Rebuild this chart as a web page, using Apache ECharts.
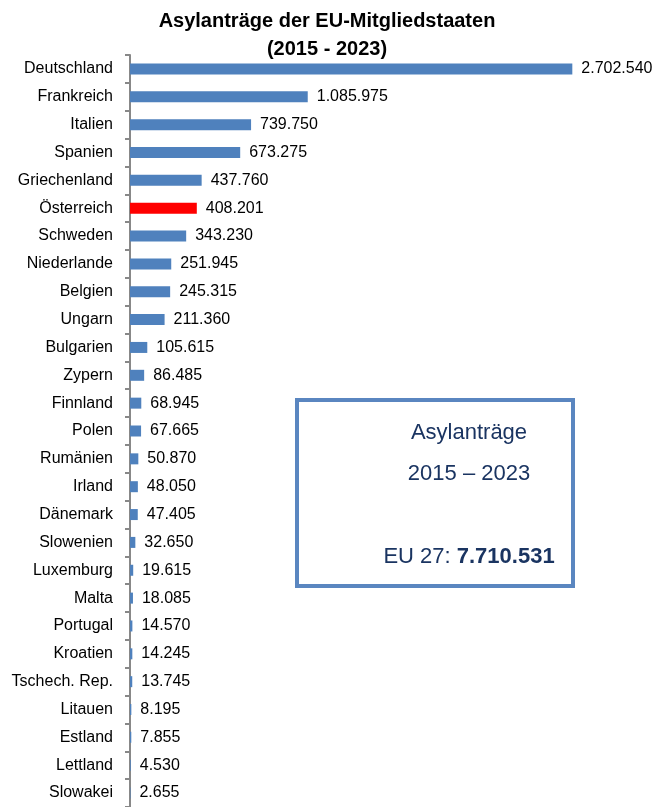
<!DOCTYPE html>
<html>
<head>
<meta charset="utf-8">
<script src="https://cdn.jsdelivr.net/npm/echarts@6/dist/echarts.min.js"></script>
<style>
  html, body { margin: 0; padding: 0; background: #fff; }
  #chart { width: 666px; height: 807px; }
</style>
</head>
<body>
<div id="chart"></div>
<script>
// Länder (von oben nach unten) und Anzahl Asylanträge 2015-2023
const countries = [
  "Deutschland", "Frankreich", "Italien", "Spanien", "Griechenland", "Österreich",
  "Schweden", "Niederlande", "Belgien", "Ungarn", "Bulgarien", "Zypern",
  "Finnland", "Polen", "Rumänien", "Irland", "Dänemark", "Slowenien",
  "Luxemburg", "Malta", "Portugal", "Kroatien", "Tschech. Rep.", "Litauen",
  "Estland", "Lettland", "Slowakei"
];
const applications = [
  2702540, 1085975, 739750, 673275, 437760, 408201,
  343230, 251945, 245315, 211360, 105615, 86485,
  68945, 67665, 50870, 48050, 47405, 32650,
  19615, 18085, 14570, 14245, 13745, 8195,
  7855, 4530, 2655
];
const highlight = "Österreich";
const euTotal = 7710531;

const fmt = (v) => String(v).replace(/\B(?=(\d{3})+(?!\d))/g, ".");
const font = "Liberation Sans";
const boxText = "#1a3461";

const chart = echarts.init(document.getElementById("chart"));
chart.setOption({
  animation: false,
  title: {
    text: "Asylanträge der EU-Mitgliedstaaten\n(2015 - 2023)",
    left: 322, top: 2, textAlign: "center",
    textStyle: { fontFamily: font, fontSize: 20, fontWeight: "bold", color: "#000", lineHeight: 28 }
  },
  grid: { left: 130, right: 45, top: 55, bottom: -5, containLabel: false },
  xAxis: {
    type: "value", min: 0, max: 3000000, show: false
  },
  yAxis: {
    type: "category",
    inverse: true,
    data: countries,
    axisLine: { show: true, lineStyle: { color: "#888", width: 2 } },
    axisTick: { show: true, length: 5, lineStyle: { color: "#888", width: 2 } },
    axisLabel: { fontFamily: font, fontSize: 16, color: "#000", margin: 17 }
  },
  series: [{
    type: "bar",
    barWidth: 11,
    data: applications.map((v, i) => ({
      value: v,
      itemStyle: { color: countries[i] === highlight ? "#ff0000" : "#4f81bd" }
    })),
    label: {
      show: true, position: "right", distance: 9,
      fontFamily: font, fontSize: 16, color: "#000",
      formatter: (p) => fmt(p.value)
    }
  }],
  graphic: [{
    type: "group",
    children: [
      {
        type: "rect",
        shape: { x: 297, y: 400, width: 276, height: 186 },
        style: { fill: "#fff", stroke: "#5a86c0", lineWidth: 4 }
      },
      {
        type: "text", x: 469, y: 433,
        style: { text: "Asylanträge", fill: boxText, font: "22px " + font, align: "center", verticalAlign: "middle" }
      },
      {
        type: "text", x: 469, y: 474,
        style: { text: "2015 – 2023", fill: boxText, font: "22px " + font, align: "center", verticalAlign: "middle" }
      },
      {
        type: "text", x: 469, y: 557,
        style: {
          text: "{n|EU 27: }{b|" + fmt(euTotal) + "}",
          align: "center", verticalAlign: "middle",
          rich: {
            n: { fontFamily: font, fontSize: 22, fill: boxText, color: boxText },
            b: { fontFamily: font, fontSize: 22, fontWeight: "bold", fill: boxText, color: boxText }
          }
        }
      }
    ]
  }]
});
</script>
</body>
</html>
